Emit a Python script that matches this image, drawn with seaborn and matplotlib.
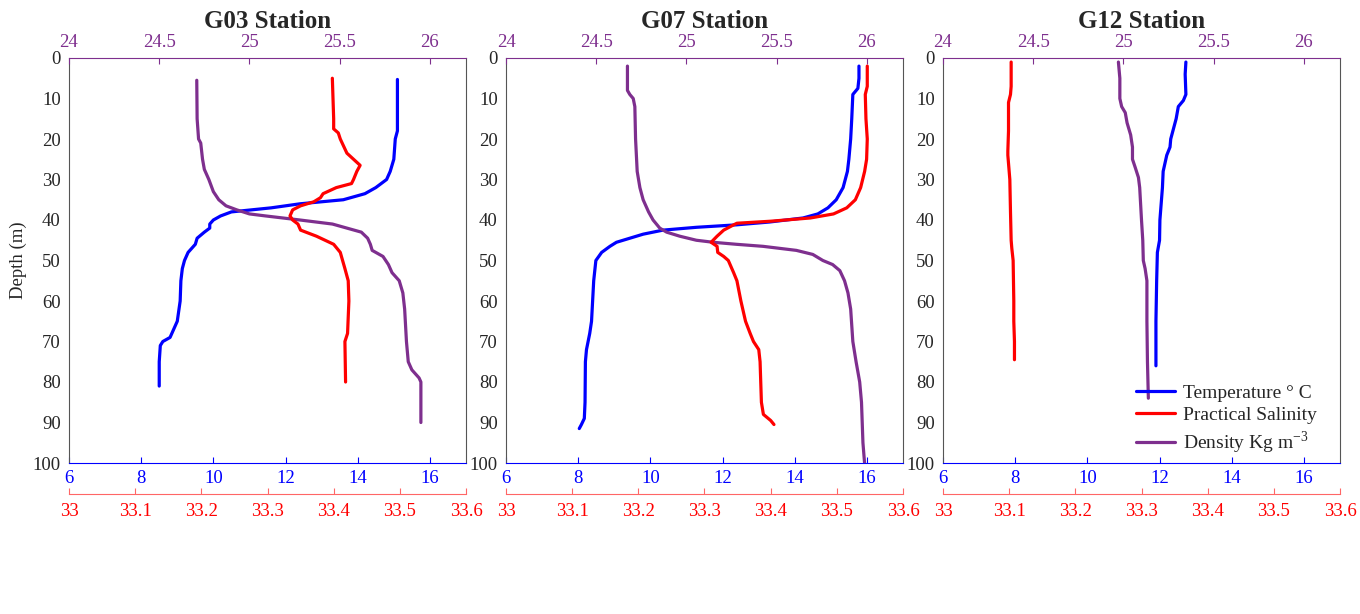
import matplotlib
matplotlib.use("Agg")
import matplotlib.pyplot as plt
from matplotlib.ticker import FormatStrFormatter
import seaborn as sns

sns.set_style("white")
plt.rcParams['font.family'] = ['Liberation Serif', 'DejaVu Serif']
plt.rcParams['mathtext.fontset'] = 'custom'
plt.rcParams['mathtext.rm'] = 'Liberation Serif'

stations = ["G03 Station", "G07 Station", "G12 Station"]

# G03
g03_t_depth = [5.3, 18, 20, 25, 28, 30, 32, 33.5, 35, 36, 37, 38, 39, 40, 41, 42, 43, 44.5, 46, 48, 50, 52, 55, 60, 65, 67, 69, 70, 71, 75, 81]
g03_temp = [15.1, 15.1, 15.04, 15.0, 14.9, 14.8, 14.5, 14.2, 13.6, 12.4, 11.6, 10.5, 10.2, 10.0, 9.9, 9.9, 9.75, 9.55, 9.5, 9.3, 9.2, 9.14, 9.1, 9.08, 9.0, 8.9, 8.8, 8.6, 8.53, 8.5, 8.5]
g03_s_depth = [5, 15, 17.5, 18.5, 20, 23.5, 25, 26.5, 28, 30, 31, 32, 33.5, 34.5, 35.5, 36.5, 37.5, 39, 40, 41, 42.5, 44, 46, 48, 52, 55, 60, 68, 70, 80]
g03_sal = [33.398, 33.40, 33.40, 33.407, 33.41, 33.42, 33.43, 33.44, 33.435, 33.43, 33.427, 33.404, 33.384, 33.38, 33.37, 33.35, 33.338, 33.334, 33.338, 33.346, 33.35, 33.374, 33.40, 33.41, 33.417, 33.422, 33.423, 33.421, 33.417, 33.418]
g03_d_depth = [5.5, 15, 20, 21, 25, 27.5, 30, 33, 35, 36.5, 37.5, 38.5, 39, 40, 41, 42, 43, 44.5, 46, 47.5, 49, 51, 53, 55, 58, 62, 70, 75, 77, 79, 80, 90]
g03_dens = [24.708, 24.71, 24.718, 24.73, 24.74, 24.75, 24.775, 24.8, 24.83, 24.87, 24.93, 25.0, 25.09, 25.28, 25.46, 25.54, 25.62, 25.655, 25.67, 25.68, 25.74, 25.77, 25.79, 25.83, 25.85, 25.86, 25.87, 25.88, 25.9, 25.94, 25.95, 25.95]

# G07
g07_t_depth = [2, 5, 7.5, 9, 15, 20, 25, 28, 32, 35, 37, 38.5, 39.5, 40.5, 41.2, 41.8, 42.5, 43.5, 44.5, 45.5, 46.5, 48, 50, 55, 60, 65, 68, 72, 75, 85, 89, 90.5, 91.5]
g07_temp = [15.78, 15.78, 15.75, 15.61, 15.58, 15.55, 15.5, 15.46, 15.34, 15.15, 14.92, 14.64, 14.23, 13.3, 12.38, 11.28, 10.35, 9.8, 9.43, 9.06, 8.88, 8.65, 8.49, 8.43, 8.4, 8.37, 8.32, 8.23, 8.2, 8.19, 8.17, 8.09, 8.03]
g07_s_depth = [2, 7, 9, 15, 20, 25, 28, 32, 35, 37, 38.5, 39.5, 40.3, 40.8, 41.2, 42.5, 44, 45.5, 46.5, 48, 49, 50, 53, 55, 60, 65, 68, 70, 72, 75, 85, 88, 89.5, 90.5]
g07_sal = [33.546, 33.546, 33.543, 33.544, 33.546, 33.545, 33.542, 33.536, 33.528, 33.515, 33.495, 33.46, 33.4, 33.349, 33.344, 33.329, 33.319, 33.31, 33.319, 33.32, 33.329, 33.336, 33.344, 33.349, 33.355, 33.362, 33.369, 33.374, 33.382, 33.384, 33.386, 33.389, 33.4, 33.405]
g07_d_depth = [2, 8, 9, 10, 12, 20, 28, 32, 35, 38, 40, 42, 43, 44, 45, 45.5, 46, 46.5, 47.5, 48.5, 50, 51, 52.5, 55, 58, 62, 70, 75, 80, 85, 95, 100]
g07_dens = [24.673, 24.673, 24.686, 24.705, 24.714, 24.718, 24.727, 24.742, 24.76, 24.79, 24.815, 24.852, 24.89, 24.963, 25.055, 25.148, 25.277, 25.424, 25.609, 25.7, 25.756, 25.81, 25.85, 25.876, 25.895, 25.91, 25.922, 25.94, 25.96, 25.97, 25.978, 25.987]

# G12
g12_t_depth = [1, 4, 9, 10.5, 12, 15, 18, 20, 22, 24, 26, 28, 32, 40, 45, 46.5, 48, 55, 65, 70, 76]
g12_temp = [12.73, 12.71, 12.73, 12.66, 12.52, 12.46, 12.37, 12.31, 12.29, 12.2, 12.15, 12.1, 12.08, 12.01, 12.0, 11.97, 11.94, 11.92, 11.9, 11.9, 11.9]
g12_s_depth = [1, 7, 9, 11, 18, 23, 24, 30, 38, 45, 47, 50, 60, 65, 70, 74.5]
g12_sal = [33.103, 33.103, 33.102, 33.099, 33.099, 33.098, 33.098, 33.101, 33.102, 33.103, 33.104, 33.106, 33.107, 33.107, 33.108, 33.108]
g12_d_depth = [1, 5, 10, 12, 13.5, 16, 19, 22, 25, 27, 29.5, 32, 40, 45, 50, 52, 55, 65, 75, 84]
g12_dens = [24.972, 24.98, 24.98, 24.99, 25.01, 25.02, 25.04, 25.05, 25.05, 25.065, 25.083, 25.09, 25.1, 25.107, 25.11, 25.12, 25.13, 25.13, 25.133, 25.138]

profiles = [
    (g03_t_depth, g03_temp, g03_s_depth, g03_sal, g03_d_depth, g03_dens),
    (g07_t_depth, g07_temp, g07_s_depth, g07_sal, g07_d_depth, g07_dens),
    (g12_t_depth, g12_temp, g12_s_depth, g12_sal, g12_d_depth, g12_dens),
]

BLUE = '#0000FF'
RED = '#FF0000'
PURPLE = '#7E2F8E'
FS = 13.5

fig = plt.figure(figsize=(13.6, 6.14), dpi=100)
lefts = [69, 506, 943]

for i, (td, t, sd, s, dd, d) in enumerate(profiles):
    ax = fig.add_axes([lefts[i] / 1360, 151 / 614, 397 / 1360, 405 / 614])
    ax_d = ax.twiny()
    ax_s = ax.twiny()

    sns.lineplot(x=t, y=td, ax=ax, sort=False, estimator=None, color=BLUE, lw=2.3, legend=False)
    sns.lineplot(x=s, y=sd, ax=ax_s, sort=False, estimator=None, color=RED, lw=2.3, legend=False)
    sns.lineplot(x=d, y=dd, ax=ax_d, sort=False, estimator=None, color=PURPLE, lw=2.3, legend=False)

    ax.set_ylim(100, 0)
    ax.set_yticks(range(0, 101, 10))
    ax.set_xlim(6, 17)
    ax.set_xticks(range(6, 17, 2))
    ax.set_xlabel('')
    ax.set_ylabel('Depth (m)' if i == 0 else '', fontsize=FS)
    ax.tick_params(axis='x', colors=BLUE, direction='in', length=4, labelsize=FS, pad=5)
    ax.tick_params(axis='y', length=0, labelsize=FS, pad=6, colors='#262626')
    for sp in ['left', 'right']:
        ax.spines[sp].set_color('#555555')
    ax.spines['bottom'].set_color(BLUE)
    ax.spines['top'].set_visible(False)

    ax_d.set_xlim(24, 26.2)
    ax_d.set_xticks([24, 24.5, 25, 25.5, 26])
    ax_d.xaxis.set_major_formatter(FormatStrFormatter('%g'))
    ax_d.set_xlabel('')
    ax_d.tick_params(axis='x', colors=PURPLE, direction='in', length=4, labelsize=FS, pad=5)
    ax_d.spines['top'].set_color(PURPLE)
    for sp in ['left', 'right', 'bottom']:
        ax_d.spines[sp].set_visible(False)

    ax_s.set_xlim(33, 33.6)
    ax_s.set_xticks([33, 33.1, 33.2, 33.3, 33.4, 33.5, 33.6])
    ax_s.xaxis.set_major_formatter(FormatStrFormatter('%g'))
    ax_s.xaxis.set_ticks_position('bottom')
    ax_s.xaxis.set_label_position('bottom')
    ax_s.spines['bottom'].set_position(('outward', 22))
    ax_s.spines['bottom'].set_color('#FF6666')
    for sp in ['left', 'right', 'top']:
        ax_s.spines[sp].set_visible(False)
    ax_s.set_xlabel('')
    ax_s.tick_params(axis='x', colors='#FF6666', labelcolor=RED, direction='in', length=4, labelsize=FS, pad=7)
    ax_s.patch.set_visible(False)
    ax_d.patch.set_visible(False)

    fig.text((lefts[i] + 397 / 2) / 1360, 1 - 22 / 614, stations[i], fontsize=18,
             fontweight='bold', ha='center', va='center')

    if i == 2:
        handles = [ax.get_lines()[-1], ax_s.get_lines()[-1], ax_d.get_lines()[-1]]
        labels = ['Temperature ° C', 'Practical Salinity', r'Density Kg m$^{-3}$']
        ax_d.legend(handles, labels, loc='lower right', frameon=False, fontsize=14,
                    handlelength=2.0, handletextpad=0.4, labelspacing=0.25,
                    bbox_to_anchor=(0.985, -0.025))

fig.savefig('out.png', dpi=100)
